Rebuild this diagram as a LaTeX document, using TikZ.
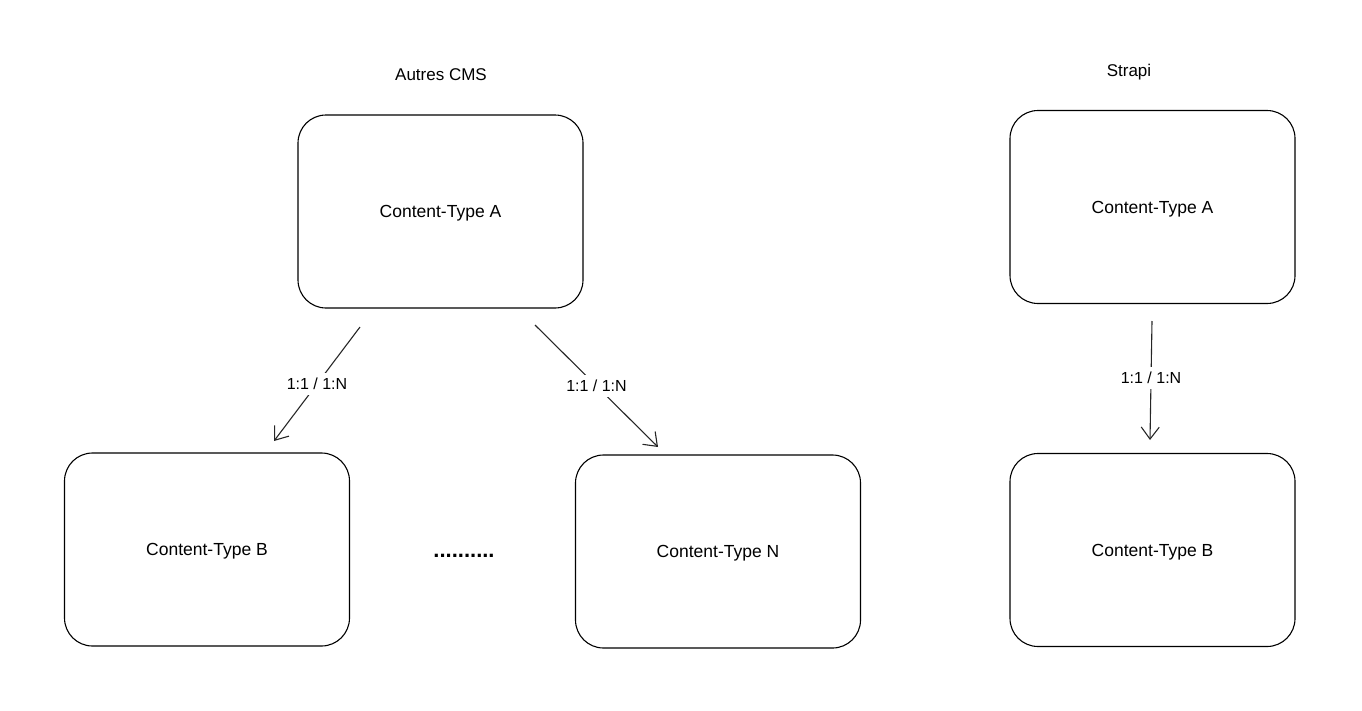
\documentclass[tikz,border=0pt]{standalone}
\usepackage{fontspec}
\setmainfont{Liberation Sans}
\usetikzlibrary{arrows.meta}
\begin{document}
\begin{tikzpicture}[x=1pt,y=-1pt,
  box/.style={draw=black, line width=1.1pt, rounded corners=28pt, minimum width=285pt, minimum height=193pt, inner sep=0pt, text depth=0pt, font=\fontsize{17.5}{20}\selectfont},
  title/.style={font=\fontsize{17}{20}\selectfont},
  rel/.style={draw=black!85, line width=1.1pt, -{Straight Barb[length=12pt,width=18pt,line width=1.1pt]}},
  rellabel/.style={fill=white, inner sep=5pt, font=\fontsize{16}{18}\selectfont}]
\useasboundingbox (0,0) rectangle (1362,710);
\node[title] (t1) at (441,75) {Autres CMS};
\node[title] (t2) at (1129,72) {Strapi};
\node[box] (A) at (440.5,211.5) {Content-Type A};
\node[box] (B) at (207,549.5) {Content-Type B};
\node[box] (N) at (718,551.5) {Content-Type N};
\node[box] (SA) at (1152.5,207) {Content-Type A};
\node[box] (SB) at (1152.5,550) {Content-Type B};
\node[font=\bfseries\fontsize{22}{24}\selectfont] (dots) at (464,556) {..........};
\coordinate (a1) at (360,327);
\coordinate (b1) at (274,441);
\coordinate (a2) at (535,325);
\coordinate (n2) at (658,447);
\coordinate (a3) at (1152,321);
\coordinate (b3) at (1150,440);
\draw[rel] (a1) -- node[rellabel] (l1) {1:1 / 1:N} (b1);
\draw[rel] (a2) -- node[rellabel, pos=0.5] (l2) {1:1 / 1:N} (n2);
\draw[rel] (a3) -- node[rellabel, pos=0.48] (l3) {1:1 / 1:N} (b3);
\end{tikzpicture}
\end{document}
